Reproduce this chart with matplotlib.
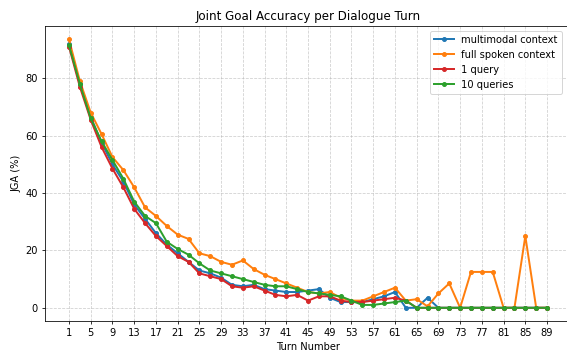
import matplotlib
matplotlib.use("Agg")
import matplotlib.pyplot as plt

turns = list(range(1, 90, 2))

multimodal = [92, 78, 66.5, 57.5, 50, 44, 36, 31, 26, 22, 19, 16, 13, 12, 10.5, 8, 7.5, 8, 6.5, 6,
              5.5, 5.5, 6, 6.5, 3.5, 2, 2, 2, 3, 4, 5.5, 0, 0, 3.5, 0, 0, 0, 0, 0, 0,
              0, 0, 0, 0, 0]
full_spoken = [93.5, 79, 68, 60.5, 52.5, 48, 42, 35, 32, 28.5, 25.5, 24, 19, 18, 16, 15, 16.5, 13.5, 11.5, 10,
               8.5, 7, 5.5, 5, 5.5, 3.5, 2.5, 2.5, 4, 5.5, 7, 2.5, 3, 0.5, 5, 8.5, 0, 12.5, 12.5, 12.5,
               0, 0, 25, 0, 0]
one_query = [91, 77, 65.5, 56, 48.5, 42, 34.5, 29.5, 25, 21.5, 18, 16, 12, 11, 10, 7.5, 7, 7.5, 6, 4.5,
             4, 4.5, 2.5, 4, 4, 2.5, 2, 2, 2.5, 3, 3.5, 2.5, 0, 0, 0, 0, 0, 0, 0, 0,
             0, 0, 0, 0, 0]
ten_queries = [91.5, 78, 66, 58, 51.5, 45, 37, 32, 29.5, 23, 20.5, 18.5, 15.5, 13, 12, 11, 10, 9, 8, 7.5,
               7.5, 6.5, 5.5, 5, 4.5, 4, 2.5, 1, 1, 1.5, 2, 2.5, 0, 0, 0, 0, 0, 0, 0, 0,
               0, 0, 0, 0, 0]

series = [("multimodal context", multimodal, "#1f77b4"),
          ("full spoken context", full_spoken, "#ff7f0e"),
          ("1 query", one_query, "#d62728"),
          ("10 queries", ten_queries, "#2ca02c")]

dpi = 70.875
fig = plt.figure(figsize=(567 / dpi, 352 / dpi), dpi=dpi)
ax = fig.add_axes([45 / 567, 31 / 352, 1.006 - 45 / 567, (321 - 26) / 352])

for label, vals, color in series:
    ax.plot(turns, vals, marker="o", markersize=4, linewidth=2, color=color, label=label)

ax.set_xticks(list(range(1, 90, 4)))
ax.set_xlim(-3.42, 93.3)
ax.set_ylim(-4.6, 98.2)
ax.grid(True, linestyle="--", alpha=0.6)
ax.set_xlabel("Turn Number")
ax.set_ylabel("JGA (%)")
ax.set_title("Joint Goal Accuracy per Dialogue Turn")
ax.legend(loc="upper right", bbox_to_anchor=(0.993, 1.0))

fig.savefig("out.png", dpi=dpi)
